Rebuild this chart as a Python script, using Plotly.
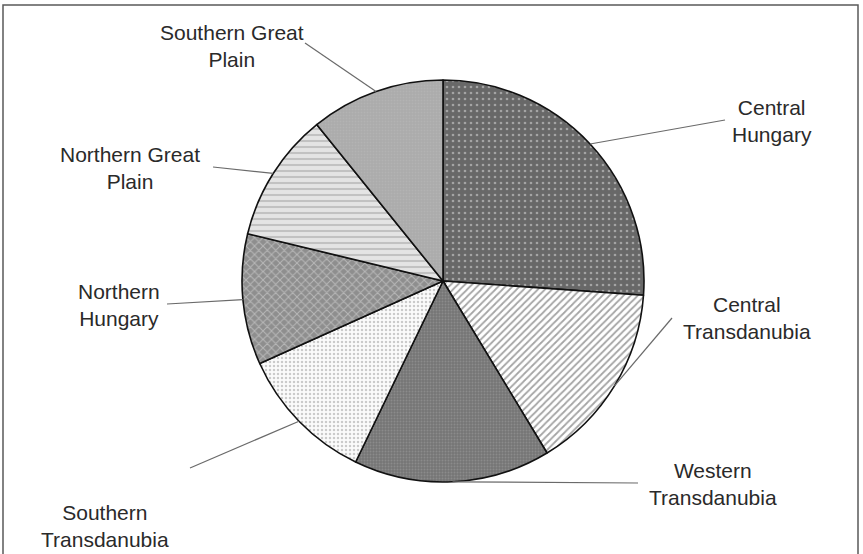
import numpy as np
import plotly.graph_objects as go

# regions, clockwise from 12 o'clock, share of total (%)
regions = ["Central Hungary", "Central Transdanubia", "Western Transdanubia",
           "Southern Transdanubia", "Northern Hungary", "Northern Great Plain",
           "Southern Great Plain"]
shares = [26.1, 15.2, 15.8, 11.1, 10.5, 10.4, 10.8]
label_text = ["Central<br>Hungary", "Central<br>Transdanubia", "Western<br>Transdanubia",
              "Southern<br>Transdanubia", "Northern<br>Hungary", "Northern Great<br>Plain",
              "Southern Great<br>Plain"]

W, H = 863, 554
CX, CY, R = 443, 281, 201

# black & white fill patterns, one per slice
bgs = ["#686868", "#ffffff", "#767676", "#fbfbfb", "#8e8e8e", "#e4e4e4", "#ababab"]
fgs = ["#e0e0e0", "#4a4a4a", "#a0a0a0", "#9a9a9a", "#e0e0e0", "#a0a0a0", "#bcbcbc"]
shapes_p = [".", "/", ".", ".", "x", "-", "."]
sizes = [6, 5, 3, 4, 6, 6, 3]
solid = [0.15, 0.35, 0.3, 0.3, 0.3, 0.35, 0.3]

# label centre and leader start, in pixels
label_pos = [(772, 121), (747, 318), (713, 484), (105, 526), (119, 305), (130, 168), (232, 46)]
leader_out = [(725, 120), (672, 318), (638, 483), (190, 468), (167, 304), (213, 167), (305, 43)]


def px(x, y):
    return x / W, 1 - y / H


fig = go.Figure(go.Pie(
    labels=regions,
    values=shares,
    sort=False,
    direction="clockwise",
    rotation=0,
    textinfo="none",
    hoverinfo="label+percent",
    marker=dict(
        colors=bgs,
        line=dict(color="#111111", width=1.6),
        pattern=dict(shape=shapes_p, fgcolor=fgs, bgcolor=bgs, size=sizes,
                     solidity=solid, fillmode="overlay"),
    ),
    domain=dict(x=[(CX - R) / W, (CX + R) / W], y=[1 - (CY + R) / H, 1 - (CY - R) / H]),
    showlegend=False,
))

# leader lines from slice mid angle to the label
vals = np.array(shares)
mids = (np.cumsum(vals) - vals / 2) / vals.sum() * 2 * np.pi
shapes = []
for m, (ox, oy) in zip(mids, leader_out):
    ex, ey = CX + R * np.sin(m), CY - R * np.cos(m)
    x0, y0 = px(ox, oy)
    x1, y1 = px(ex, ey)
    shapes.append(dict(type="line", xref="paper", yref="paper", x0=x0, y0=y0, x1=x1, y1=y1,
                       line=dict(color="#6a6a6a", width=1.2)))

# chart frame
shapes.append(dict(type="rect", xref="paper", yref="paper",
                   x0=3 / W, x1=858 / W, y0=-0.05, y1=1 - 5 / H,
                   line=dict(color="#5a5a5a", width=1.5)))

annotations = []
for t, (lx, ly) in zip(label_text, label_pos):
    ax_, ay_ = px(lx, ly)
    annotations.append(dict(x=ax_, y=ay_, xref="paper", yref="paper", text=t, showarrow=False,
                            align="center", xanchor="center", yanchor="middle",
                            font=dict(family="Liberation Sans, Arial, sans-serif",
                                      size=21, color="#2a2a2a")))

fig.update_layout(
    width=W, height=H,
    margin=dict(l=0, r=0, t=0, b=0),
    paper_bgcolor="white",
    plot_bgcolor="white",
    shapes=shapes,
    annotations=annotations,
)

# drop the page's default body margin so the figure sits at the window corner
fig.write_html("out.html", config={"displayModeBar": False},
               post_script="document.body.style.margin='0';document.body.style.overflow='hidden';")
